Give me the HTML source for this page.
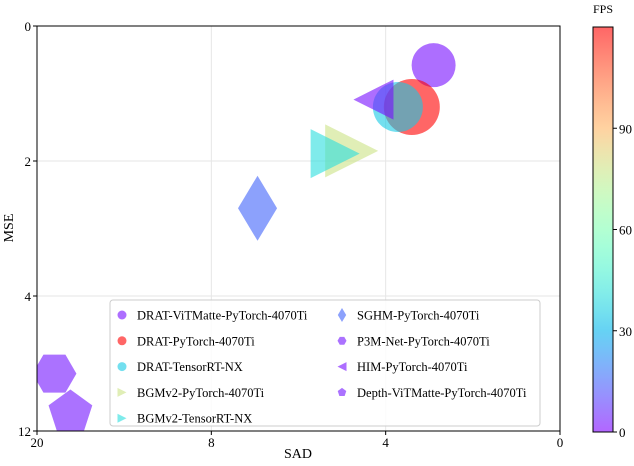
<!DOCTYPE html>
<html><head><meta charset="utf-8"><style>
body{margin:0;background:#fff;}
svg{display:block;font-family:"Liberation Serif",serif;}
</style></head><body>
<svg id="chart" width="634" height="466">
<defs>
<linearGradient id="cbg" x1="0" y1="1" x2="0" y2="0"></linearGradient>
<clipPath id="clip"><rect x="37" y="26" width="523" height="405"/></clipPath>
</defs>
<g id="grid"></g>
<g id="marks" clip-path="url(#clip)"></g>
<rect x="37" y="26" width="523" height="405" fill="none" stroke="#000" stroke-width="1"/>
<g id="axes"></g>
<text x="298" y="458" font-size="14" text-anchor="middle">SAD</text>
<text transform="translate(13,228) rotate(-90)" font-size="14" text-anchor="middle">MSE</text>
<g id="legend"></g>
<g id="cbar"></g>
</svg>
<script>
const names=["DRAT-ViTMatte-PyTorch-4070Ti","DRAT-PyTorch-4070Ti","DRAT-TensorRT-NX","BGMv2-PyTorch-4070Ti","BGMv2-TensorRT-NX","SGHM-PyTorch-4070Ti","P3M-Net-PyTorch-4070Ti","HIM-PyTorch-4070Ti","Depth-ViTMatte-PyTorch-4070Ti"];
const sad=[2.9,3.4,3.72,4.78,5.16,6.94,18.8,4.28,17.7];
const mse=[0.58,1.2,1.2,1.85,1.89,2.7,8.6,1.09,10.9];
const fps=[2,120,35,78,40,15,3,2,3];
const sizes=[22,28,25,26.5,24.5,21,22,20,23];
const shapes=["circle","circle","circle","right","right","diamond","hexagon","left","pentagon"];
const xTicks=[20,8,4,0];
const yTicks=[0,2,4,12];
const cTicks=[0,30,60,90];
const fpsMax=120;
const NS="http://www.w3.org/2000/svg";
const L=37,R=560,T=26,B=431;
function xs(v){ if(v<=8) return R-v*(R-L)/3/4; return R-2*(R-L)/3-(v-8)*(R-L)/3/12; }
function ys(v){ const h=(B-T)/3; if(v<=4) return T+v*h/2; return T+2*h+(v-4)*h/8; }
function rainbow(t){const r=Math.min(1,Math.abs(2*t-0.5)),g=Math.sin(Math.PI*t),b=Math.cos(Math.PI*t/2);return `rgb(${Math.round(r*255)},${Math.round(g*255)},${Math.round(b*255)})`;}
function el(tag,attrs,parent){const e=document.createElementNS(NS,tag);for(const k in attrs)e.setAttribute(k,attrs[k]);parent.appendChild(e);return e;}
function shapePts(s,cx,cy,r){
 let pts=[];
 if(s==="right") pts=[[cx+r,cy],[cx-r,cy-r],[cx-r,cy+r]];
 else if(s==="left") pts=[[cx-r,cy],[cx+r,cy-r],[cx+r,cy+r]];
 else if(s==="diamond") pts=[[cx,cy-r*1.55],[cx+r*0.93,cy],[cx,cy+r*1.55],[cx-r*0.93,cy]];
 else if(s==="hexagon"){for(let i=0;i<6;i++){const a=Math.PI/3*i;pts.push([cx+r*Math.cos(a),cy+r*Math.sin(a)]);}}
 else if(s==="pentagon"){for(let i=0;i<5;i++){const a=-Math.PI/2+2*Math.PI/5*i;pts.push([cx+r*Math.cos(a),cy+r*Math.sin(a)]);}}
 return pts.map(p=>p.join(",")).join(" ");
}
function drawShape(s,cx,cy,r,fill,parent){
 if(s==="circle") return el("circle",{cx:cx,cy:cy,r:r,fill:fill,"fill-opacity":0.6},parent);
 return el("polygon",{points:shapePts(s,cx,cy,r),fill:fill,"fill-opacity":0.6},parent);
}
const grid=document.getElementById("grid"),axes=document.getElementById("axes");
xTicks.forEach(v=>{const x=xs(v);
 const g=el("line",{x1:x,x2:x,y1:T,y2:B,stroke:"#e6e6e6","stroke-width":1},grid);
 
 el("line",{x1:x,x2:x,y1:B,y2:B+4,stroke:"#000"},axes);
 const t=el("text",{x:x,y:B+16,"font-size":13,"text-anchor":"middle"},axes);t.textContent=v;
 });
yTicks.forEach(v=>{const y=ys(v);
 const g=el("line",{x1:L,x2:R,y1:y,y2:y,stroke:"#e6e6e6","stroke-width":1},grid);
 
 el("line",{x1:L-4,x2:L,y1:y,y2:y,stroke:"#000"},axes);
 const t=el("text",{x:L-6,y:y+5,"font-size":13,"text-anchor":"end"},axes);t.textContent=v;
 });
const marks=document.getElementById("marks");
names.forEach((n,i)=>{const m=drawShape(shapes[i],xs(sad[i]),ys(mse[i]),sizes[i],rainbow(fps[i]/fpsMax),marks);
 });
const lg=document.getElementById("legend");
const box=el("rect",{x:110,y:300,width:430,height:126,rx:3,fill:"#fff","fill-opacity":0.85,stroke:"#ccc"},lg);

names.forEach((n,i)=>{const col=i<5?0:1,row=i<5?i:i-5;const mx=col?342:122,my=315+row*25.8;
 const g=el("g",{},lg);
 drawShape(shapes[i],mx,my,4.5,rainbow(fps[i]/fpsMax),g);
 const t=el("text",{x:mx+15,y:my+4.5,"font-size":12.5},g);t.textContent=n;});
const grad=document.getElementById("cbg");
for(let i=0;i<=20;i++){el("stop",{offset:(i/20),"stop-color":rainbow(i/20),"stop-opacity":0.6},grad);}
const cb=document.getElementById("cbar");
const cT=27,cB=432,cL=593,cW=20;
const cr=el("rect",{x:cL,y:cT,width:cW,height:cB-cT,fill:"url(#cbg)",stroke:"#000","stroke-width":1},cb);

cTicks.forEach(v=>{const y=cB-(v/fpsMax)*(cB-cT);
 el("line",{x1:cL+cW,x2:cL+cW+4,y1:y,y2:y,stroke:"#000"},cb);
 const t=el("text",{x:cL+cW+6,y:y+5,"font-size":13},cb);t.textContent=v;
 });
const ct=el("text",{x:cL+cW/2,y:13,"font-size":12,"text-anchor":"middle"},cb);ct.textContent="FPS";

</script>
</body></html>
